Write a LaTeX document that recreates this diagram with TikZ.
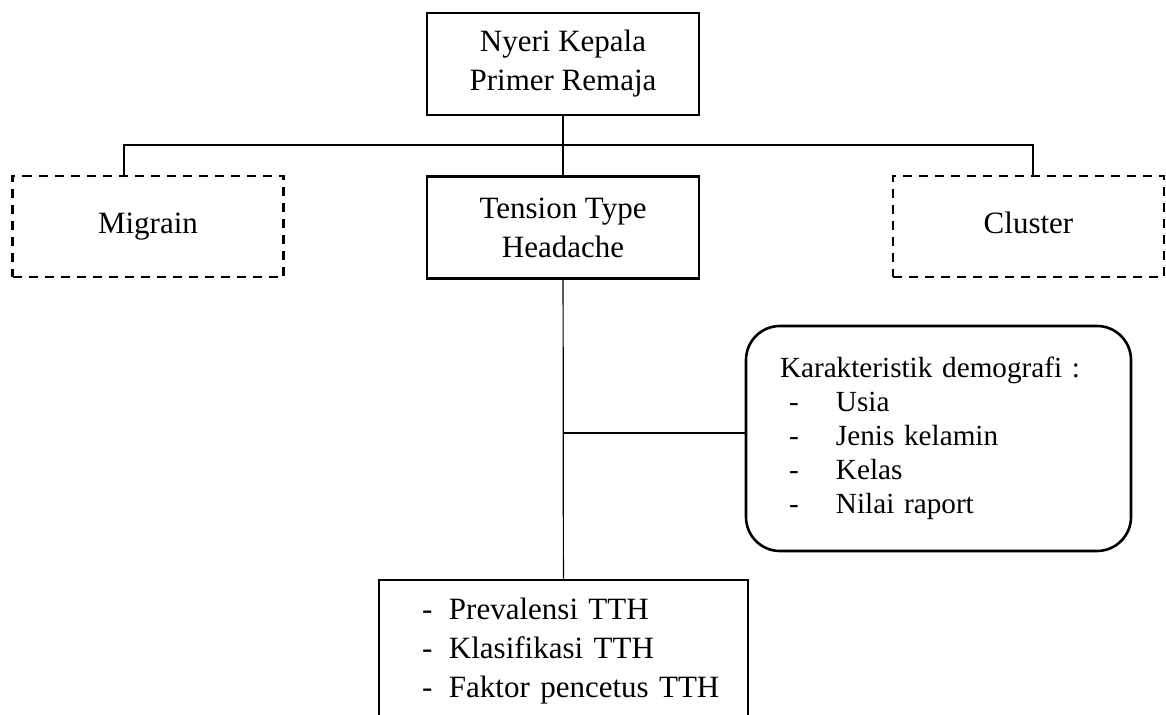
\documentclass[tikz,border=0pt]{standalone}
\usepackage{fontspec}
\setmainfont{Liberation Serif}
\usetikzlibrary{positioning}
\tikzset {
  tree path/.style = {
    draw = black,
    line width = 0.6pt
  },
  % connector between boxes
  link/.style = {
    tree path
  }
}
\tikzset {
  tree node/.style = {
    draw = black,
    line width = 1.3pt,
    align = center,
    inner sep = 0,
    font = \fontsize{15.5}{19.5}\selectfont
  },
  % main topic box
  topic/.style = {
    tree node,
    rectangle,
    minimum width = 136pt,
    minimum height = 51pt
  },
  % side type, not studied
  side/.style = {
    topic,
    dashed,
    dash pattern = on 4.5pt off 3.5pt,
    line width = 1.4pt,
    minimum width = 135.5pt,
    minimum height = 50.5pt,
    text height = 11pt,
    text depth = 3.5pt
  },
  % list of variables
  varlist/.style = {
    tree node,
    align = left,
    inner xsep = 12.25pt,
    text width = 160pt,
    minimum height = 71.5pt
  },
  % demographic box
  demo/.style = {
    tree node,
    rounded corners = 17pt,
    align = left,
    inner xsep = 17pt,
    text width = 158.5pt,
    minimum height = 112.5pt,
    font = \fontsize{14.6}{17}\selectfont
  }
}
\newcommand{\itemdash}[1]{\makebox[#1][l]{-}}

\begin{document}
\begin{tikzpicture}[x=0.5pt, y=-0.5pt]
    \useasboundingbox (0,0) rectangle (1166,715);
    \clip (0,0) rectangle (1166,715);

    \node[topic] (nyeri) at (563,64) {Nyeri Kepala\\Primer Remaja};
    \node[topic] (tth) at (563,227.5) {Tension Type\\Headache};
    \node[side] (migrain) at (148,226.5) {Migrain};
    \node[side] (cluster) at (1028.5,226.5) {Cluster};
    \node[demo] (karakter) at (938.5,438.5) {Karakteristik demografi :\\
      \hspace*{4.5pt}\itemdash{23.5pt}Usia\\
      \hspace*{4.5pt}\itemdash{23.5pt}Jenis kelamin\\
      \hspace*{4.5pt}\itemdash{23.5pt}Kelas\\
      \hspace*{4.5pt}\itemdash{23.5pt}Nilai raport};
    \node[varlist, minimum width = 184.5pt] (hasil) at (563.5,651.5) {%
      \hspace*{9.25pt}\itemdash{13.5pt}Prevalensi TTH\\
      \hspace*{9.25pt}\itemdash{13.5pt}Klasifikasi TTH\\
      \hspace*{9.25pt}\itemdash{13.5pt}Faktor pencetus TTH};

    \coordinate (bus-l) at (124,145);
    \coordinate (bus-r) at (1033,145);
    \coordinate (tth-demo) at (563,433);

    \draw[link] (nyeri) -- (tth);
    \draw[link] (migrain.north -| bus-l) -- (bus-l) -- (bus-r) -- (cluster.north -| bus-r);
    \draw[link] (tth) -- (hasil);
    \draw[link] (tth-demo) -- (tth-demo -| karakter.west);
  \end{tikzpicture}
\end{document}
